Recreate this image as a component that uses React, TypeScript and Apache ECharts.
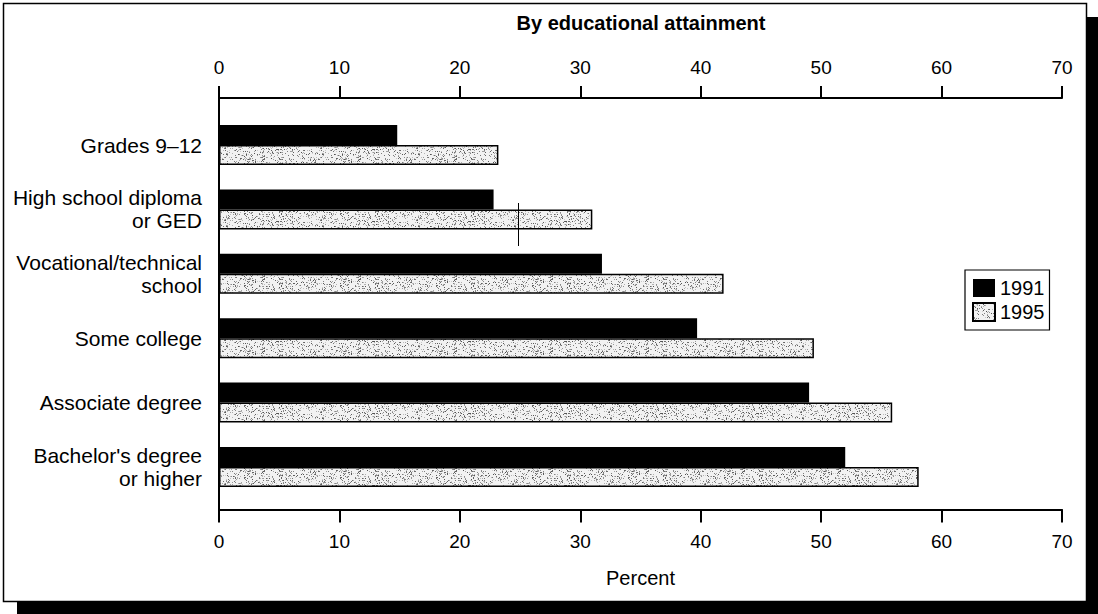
import React, { useEffect, useRef } from 'react';
import * as echarts from 'echarts';

const categories = [
  'Grades 9–12',
  'High school diploma\nor GED',
  'Vocational/technical\nschool',
  'Some college',
  'Associate degree',
  "Bachelor's degree\nor higher",
];
const values1991 = [14.8, 22.8, 31.8, 39.7, 49.0, 52.0];
const values1995 = [23.2, 31.0, 41.9, 49.4, 55.9, 58.1];
const seriesNames = ['1991', '1995'];
const axisMin = 0;
const axisMax = 70;
const axisInterval = 10;
const titleText = 'By educational attainment';
const xAxisName = 'Percent';

const FONT = '"Liberation Sans", Arial, Helvetica, sans-serif';

function makeStipple(): HTMLCanvasElement {
  const w = 96;
  const h = 24;
  const c = document.createElement('canvas');
  c.width = w;
  c.height = h;
  const ctx = c.getContext('2d')!;
  ctx.fillStyle = '#f2f2f2';
  ctx.fillRect(0, 0, w, h);
  let s = 12345;
  const next = () => {
    s = (Math.imul(s, 1103515245) + 12345) & 0x7fffffff;
    return s / 0x7fffffff;
  };
  for (let i = 0; i < 520; i++) {
    const x = Math.floor(next() * w);
    const y = Math.floor(next() * h);
    const g = Math.floor(80 + next() * 130);
    ctx.fillStyle = `rgb(${g},${g},${g})`;
    ctx.fillRect(x, y, 1, 1);
  }
  return c;
}

export default function App() {
  const ref = useRef<HTMLDivElement>(null);

  useEffect(() => {
    if (!ref.current) return;
    const chart = echarts.init(ref.current, null, { renderer: 'svg' });
    const stipple = makeStipple();
    const pattern: any = { image: stipple, repeat: 'repeat' };

    const axisLabelStyle = { color: '#000', fontSize: 19, fontFamily: FONT };

    const option: any = {
      animation: false,
      backgroundColor: 'transparent',
      textStyle: { fontFamily: FONT, color: '#000' },
      title: {
        text: titleText,
        left: 641,
        top: 13,
        textAlign: 'center',
        padding: 0,
        textStyle: { fontSize: 20, fontWeight: 'bold', color: '#000', fontFamily: FONT },
      },
      legend: {
        data: seriesNames,
        orient: 'vertical',
        left: 965,
        top: 270,
        itemWidth: 22,
        itemHeight: 18,
        itemGap: 4,
        padding: [8, 5, 8, 7],
        borderColor: '#000',
        borderWidth: 1.2,
        icon: 'rect',
        textStyle: { fontSize: 20, color: '#000', fontFamily: FONT, lineHeight: 18 },
      },
      graphic: [
        {
          type: 'rect',
          z: -100,
          shape: { x: 17, y: 17, width: 1200, height: 700 },
          style: { fill: '#000' },
        },
        {
          type: 'rect',
          z: -99,
          shape: { x: 3.5, y: 3.5, width: 1083, height: 598 },
          style: { fill: '#fff', stroke: '#000', lineWidth: 1.5 },
        },
        {
          type: 'line',
          z: 50,
          shape: { x1: 518.5, y1: 203, x2: 518.5, y2: 246 },
          style: { stroke: '#000', lineWidth: 1 },
        },
      ],
      grid: [
        { left: 219, right: 36, top: 98, bottom: 104.5 },
        { left: 219, right: 36, top: 112.8, bottom: 114.8 },
      ],
      xAxis: [
        {
          gridIndex: 0,
          type: 'value',
          position: 'top',
          min: axisMin,
          max: axisMax,
          interval: axisInterval,
          axisLine: { show: true, onZero: false, lineStyle: { color: '#000', width: 2 } },
          axisTick: { show: true, inside: false, length: 12, lineStyle: { color: '#000', width: 2 } },
          axisLabel: { ...axisLabelStyle, margin: 21 },
          splitLine: { show: false },
        },
        {
          gridIndex: 0,
          type: 'value',
          position: 'bottom',
          min: axisMin,
          max: axisMax,
          interval: axisInterval,
          axisLine: { show: true, onZero: false, lineStyle: { color: '#000', width: 2 } },
          axisTick: { show: true, inside: false, length: 13, lineStyle: { color: '#000', width: 2 } },
          axisLabel: { ...axisLabelStyle, margin: 22 },
          splitLine: { show: false },
          name: xAxisName,
          nameLocation: 'middle',
          nameGap: 58,
          nameTextStyle: { fontSize: 20, color: '#000', fontFamily: FONT },
        },
        {
          gridIndex: 1,
          type: 'value',
          min: axisMin,
          max: axisMax,
          show: false,
        },
      ],
      yAxis: [
        {
          gridIndex: 0,
          type: 'value',
          min: 0,
          max: 1,
          axisLine: { show: true, onZero: false, lineStyle: { color: '#000', width: 2 } },
          axisTick: { show: false },
          axisLabel: { show: false },
          splitLine: { show: false },
        },
        {
          gridIndex: 1,
          type: 'category',
          data: categories,
          inverse: true,
          axisLine: { show: false },
          axisTick: { show: false },
          axisLabel: {
            color: '#000',
            fontSize: 21,
            lineHeight: 23,
            fontFamily: FONT,
            margin: 17,
            align: 'right',
          },
          splitLine: { show: false },
        },
      ],
      series: [
        {
          name: seriesNames[0],
          type: 'bar',
          xAxisIndex: 2,
          yAxisIndex: 1,
          data: values1991,
          barWidth: 20,
          barGap: '0%',
          itemStyle: { color: '#000' },
        },
        {
          name: seriesNames[1],
          type: 'bar',
          xAxisIndex: 2,
          yAxisIndex: 1,
          data: values1995,
          barWidth: 20,
          barGap: '0%',
          itemStyle: { color: pattern, borderColor: '#000', borderWidth: 1.5 },
        },
      ],
    };

    chart.setOption(option);
    return () => chart.dispose();
  }, []);

  return (
    <div
      ref={ref}
      style={{ position: 'fixed', left: 0, top: 0, width: 1098, height: 614, background: '#fff' }}
    />
  );
}
